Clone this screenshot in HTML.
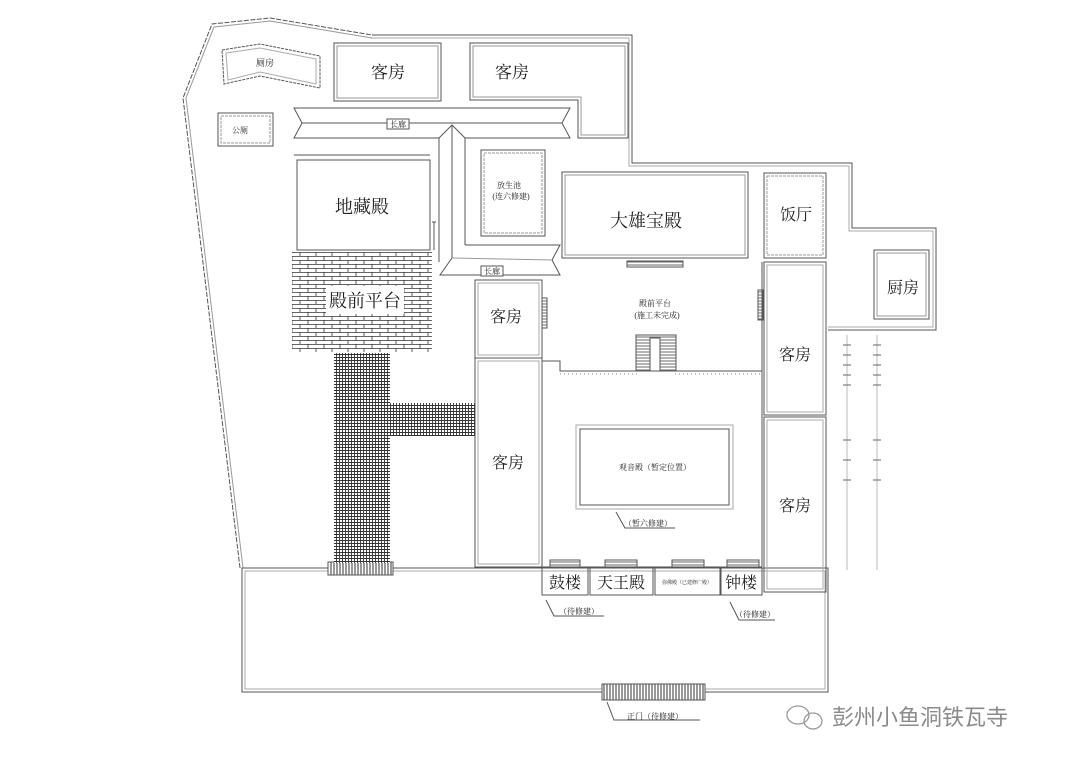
<!DOCTYPE html>
<html><head><meta charset="utf-8"><style>
html,body{margin:0;padding:0;background:#fff;width:1080px;height:762px;overflow:hidden}
svg{display:block}
text{font-family:"Liberation Serif","Noto Serif CJK SC","Noto Sans CJK SC",serif;fill:#222}
</style></head><body>
<svg width="1080" height="762" viewBox="0 0 1080 762" xmlns="http://www.w3.org/2000/svg">
<defs>
<pattern id="brick" width="16" height="8" patternUnits="userSpaceOnUse">
<rect width="16" height="8" fill="#fff"/>
<path d="M0 0.5H16M0 4.5H16M4 0V4.5M12 4.5V8" stroke="#333" stroke-width="0.8" fill="none"/>
</pattern>
<pattern id="grid" width="3" height="3" patternUnits="userSpaceOnUse">
<rect width="3" height="3" fill="#fff"/>
<path d="M0 0.5H3M0.5 0V3" stroke="#333" stroke-width="0.9"/>
</pattern>
<pattern id="vbars" width="3" height="10" patternUnits="userSpaceOnUse">
<rect width="3" height="10" fill="#fff"/><path d="M1 0V10" stroke="#333" stroke-width="1"/>
</pattern>
<pattern id="hsteps" width="10" height="3" patternUnits="userSpaceOnUse">
<rect width="10" height="3" fill="#fff"/><path d="M0 1H10" stroke="#444" stroke-width="0.8"/>
</pattern>
</defs>
<g fill="none" stroke="#555" stroke-width="1">
<!-- outer boundary -->
<path d="M240 568 L183 98 L212 24 L270 18 L372 35" stroke-dasharray="5 1.5"/>
<path d="M372 35 L632 35 L632 163 L852 163 L852 228 L936 228 L936 330 L828 330"/>
<path d="M243 568 L186 98 L214 27 L270 21 L372 38" stroke="#999"/>
<path d="M372 38 L629 38 L629 166 L849 166 L849 231 L933 231 L933 327 L828 327" stroke="#aaa"/>
<!-- bottom yard -->
<rect x="242" y="568" width="586" height="124"/>
<rect x="245" y="571" width="580" height="118" stroke="#aaa"/>
<!-- 厕房 -->
<path d="M222 50 L260 44 L320 56 L320 88 L260 76 L224 84 Z" stroke-dasharray="3 1"/>
<path d="M226 53 L260 48 L316 59 L316 84 L260 72 L228 80 Z" stroke="#aaa"/>
<!-- 公厕 -->
<rect x="218" y="113" width="55" height="33"/><rect x="221" y="116" width="49" height="27" stroke="#999" stroke-dasharray="3 1"/>
<!-- 客房 top -->
<rect x="334" y="43" width="107" height="58"/><rect x="337" y="46" width="101" height="52" stroke="#999"/>
<path d="M470 43 L628 43 L628 138 L578 138 L578 100 L470 100 Z"/>
<path d="M473 46 L625 46 L625 135 L581 135 L581 97 L473 97 Z" stroke="#999"/>
<!-- 长廊 top -->
<path d="M294 108 L570 108 L562 123 L570 138 L465 138 L452 125 L439 138 L294 138 L302 123 Z"/>
<path d="M302 123 L562 123"/>
<!-- vertical corridor -->
<path d="M452 125 L452 258"/>
<path d="M465 138 L465 245 M439 138 L439 262" />
<path d="M465 245 L560 245 L552 260 L560 275 L440 275 L452 258"/>
<path d="M452 258 L552 260" stroke="#999"/>
<!-- 放生池 -->
<rect x="481" y="150" width="64" height="86"/><rect x="484" y="153" width="58" height="80" stroke="#999" stroke-dasharray="3 1"/>
<!-- 地藏殿 -->
<path d="M294 155 L430 155"/>
<rect x="297" y="160" width="133" height="90"/>
<path d="M432 222 L436 222 M434 222 L434 250"/>
<!-- 大雄宝殿 -->
<rect x="562" y="172" width="186" height="86"/><rect x="565" y="175" width="180" height="80" stroke="#999"/>
<rect x="627" y="261" width="56" height="6" fill="url(#hsteps)"/>
<!-- 饭厅 -->
<rect x="764" y="173" width="62" height="85"/><rect x="767" y="176" width="56" height="79" stroke="#999" stroke-dasharray="3 1"/>
<!-- 厨房 -->
<rect x="874" y="250" width="55" height="69"/><rect x="877" y="253" width="49" height="63" stroke="#999"/>
<!-- 客房 left -->
<rect x="475" y="280" width="67" height="78"/><rect x="478" y="283" width="61" height="72" stroke="#aaa"/>
<rect x="475" y="358" width="67" height="209"/><rect x="478" y="361" width="61" height="203" stroke="#aaa"/>
<rect x="542" y="298" width="5" height="30" fill="url(#hsteps)"/>
<!-- 客房 right -->
<rect x="764" y="262" width="62" height="153"/><rect x="767" y="265" width="56" height="147" stroke="#aaa"/>
<rect x="764" y="417" width="62" height="175"/><rect x="767" y="420" width="56" height="169" stroke="#aaa"/>
<rect x="758" y="290" width="5" height="30" fill="url(#hsteps)"/>
<!-- railing -->
<path d="M542 361 L560 361 L560 371 L637 371 M675 371 L762 371"/>
<path d="M560 374 L637 374 M675 374 L762 374" stroke="#888" stroke-dasharray="1 3"/>
<rect x="636" y="335" width="40" height="36" fill="url(#hsteps)"/>
<rect x="650" y="338" width="10" height="33" fill="#fff"/>
<!-- 观音殿 -->
<rect x="576" y="425" width="157" height="84" stroke="#aaa"/><rect x="580" y="429" width="149" height="76"/>
<path d="M616 512 L625 528 L675 528"/>
<!-- bottom halls -->
<path d="M542 567 L762 567"/>
<rect x="542" y="568" width="46" height="27"/><rect x="590" y="568" width="63" height="27"/><rect x="655" y="568" width="65" height="27"/><rect x="721" y="568" width="41" height="27"/>
<rect x="550" y="560" width="30" height="7" fill="url(#hsteps)"/><rect x="605" y="560" width="32" height="7" fill="url(#hsteps)"/><rect x="672" y="560" width="32" height="7" fill="url(#hsteps)"/><rect x="727" y="560" width="32" height="7" fill="url(#hsteps)"/>
<path d="M546 600 L554 616 L604 616"/><path d="M730 602 L739 620 L775 620"/>
<path d="M542 358 L542 567 M762 262 L762 567"/>
<!-- gate -->
<rect x="602" y="684" width="103" height="16" fill="url(#vbars)"/>
<path d="M607 702 L614 720 L700 720"/>
<rect x="328" y="562" width="65" height="13" fill="url(#vbars)"/>
<!-- dashed columns -->
<path d="M847 335 L847 570 M877 335 L877 570" stroke="#bbb"/>
<path d="M843 345H851M843 355H851M843 365H851M843 375H851M843 385H851M843 440H851M843 460H851M843 480H851M873 345H881M873 355H881M873 365H881M873 375H881M873 385H881M873 440H881M873 460H881M873 480H881" stroke="#666"/>
<rect x="387" y="119" width="22" height="10" fill="#fff"/>
<rect x="481" y="266" width="22" height="10" fill="#fff"/>
</g>
<!-- brick platform -->
<rect x="292" y="252" width="140" height="100" fill="url(#brick)"/>
<rect x="326" y="286" width="78" height="28" fill="#fff"/>
<!-- grid path -->
<rect x="334" y="353" width="56" height="210" fill="url(#grid)"/>
<rect x="390" y="403" width="85" height="33" fill="url(#grid)"/>
<!-- labels -->
<text x="388" y="78" font-size="17" text-anchor="middle">客房</text>
<text x="512" y="78" font-size="17" text-anchor="middle">客房</text>
<text x="265" y="66" font-size="9" text-anchor="middle">厕房</text>
<text x="240" y="133" font-size="8" text-anchor="middle">公厕</text>
<text x="398" y="127" font-size="8" text-anchor="middle">长廊</text>
<text x="492" y="274" font-size="8" text-anchor="middle">长廊</text>
<text x="509" y="188" font-size="8" text-anchor="middle">放生池</text>
<text x="511" y="199" font-size="8" text-anchor="middle">(连六修建)</text>
<text x="362" y="213" font-size="18" text-anchor="middle">地藏殿</text>
<text x="365" y="307" font-size="18" text-anchor="middle">殿前平台</text>
<text x="646" y="227" font-size="18" text-anchor="middle">大雄宝殿</text>
<text x="796" y="220" font-size="16" text-anchor="middle">饭厅</text>
<text x="903" y="293" font-size="16" text-anchor="middle">厨房</text>
<text x="506" y="322" font-size="16" text-anchor="middle">客房</text>
<text x="508" y="468" font-size="16" text-anchor="middle">客房</text>
<text x="795" y="360" font-size="16" text-anchor="middle">客房</text>
<text x="795" y="511" font-size="16" text-anchor="middle">客房</text>
<text x="655" y="306" font-size="8" text-anchor="middle">殿前平台</text>
<text x="657" y="318" font-size="8" text-anchor="middle">(施工未完成)</text>
<text x="655" y="470" font-size="8" text-anchor="middle">观音殿（暂定位置）</text>
<text x="648" y="526" font-size="8" text-anchor="middle">（暂六修建）</text>
<text x="565" y="588" font-size="16" text-anchor="middle">鼓楼</text>
<text x="621" y="588" font-size="16" text-anchor="middle">天王殿</text>
<text x="687" y="584" font-size="5" text-anchor="middle">弥佛殿（已建修广殿）</text>
<text x="741" y="588" font-size="16" text-anchor="middle">钟楼</text>
<text x="579" y="614" font-size="8" text-anchor="middle">（待修建）</text>
<text x="755" y="617" font-size="8" text-anchor="middle">（待修建）</text>
<text x="655" y="719" font-size="8" text-anchor="middle">正门（待修建）</text>
<text x="832" y="725" font-size="22" style="fill:#8a8a8a;font-family:'Liberation Sans','Noto Sans CJK SC',sans-serif">彭州小鱼洞铁瓦寺</text>
<g fill="none" stroke="#999" stroke-width="1.3"><ellipse cx="798" cy="715" rx="11" ry="9"/><ellipse cx="813" cy="721" rx="9" ry="8"/></g>
</svg>
</body></html>
